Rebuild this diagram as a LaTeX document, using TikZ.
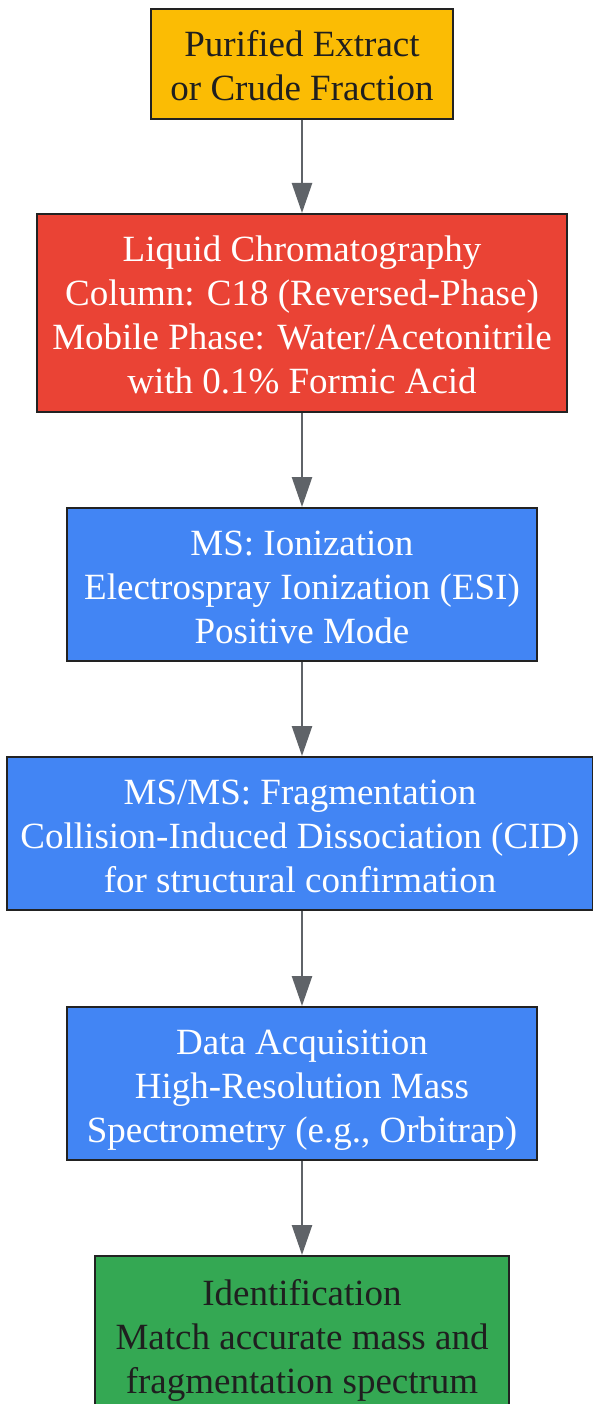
\documentclass[tikz,border=0pt]{standalone}
\usepackage{fontspec}
\setmainfont{Liberation Serif}
\usetikzlibrary{arrows.meta}
\definecolor{cyellow}{HTML}{FBBC04}
\definecolor{cred}{HTML}{EA4335}
\definecolor{cblue}{HTML}{4285F4}
\definecolor{cgreen}{HTML}{34A853}
\definecolor{cline}{HTML}{5F6368}
\definecolor{cborder}{HTML}{222222}
\definecolor{ctext}{HTML}{1F1F1F}
\newcommand\btxt[1]{\raisebox{-6pt}[\height][\depth]{\begin{tabular}{@{}c@{}}#1\end{tabular}}}
\begin{document}
\begin{tikzpicture}[x=1pt,y=1pt,
  box/.style={draw=cborder,line width=2pt,rectangle,inner sep=0pt,
    font=\fontsize{37}{44}\selectfont},
  conn/.style={draw=cline,line width=2.5pt,-{Triangle[length=30pt,width=20pt]}}]
\useasboundingbox (0,0) rectangle (593,-1404);
\begin{scope}
\clip (0,0) rectangle (593,-1404);
\node[box,fill=cyellow,text=ctext,minimum width=302pt,minimum height=110pt] (n1) at (302,-64)
  {\btxt{Purified Extract\\or Crude Fraction}};
\node[box,fill=cred,text=white,minimum width=530pt,minimum height=198pt] (n2) at (302,-313)
  {\btxt{Liquid Chromatography\\Column: C18 (Reversed-Phase)\\Mobile Phase: Water/Acetonitrile\\with 0.1\% Formic Acid}};
\node[box,fill=cblue,text=white,minimum width=470pt,minimum height=153pt] (n3) at (302,-584.5)
  {\btxt{MS: Ionization\\Electrospray Ionization (ESI)\\Positive Mode}};
\node[box,fill=cblue,text=white,minimum width=586pt,minimum height=153pt] (n4) at (300,-833.5)
  {\btxt{MS/MS: Fragmentation\\Collision-Induced Dissociation (CID)\\for structural confirmation}};
\node[box,fill=cblue,text=white,minimum width=470pt,minimum height=153pt] (n5) at (302,-1083.5)
  {\btxt{Data Acquisition\\High-Resolution Mass\\Spectrometry (e.g., Orbitrap)}};
\node[box,fill=cgreen,text=ctext,minimum width=414pt,minimum height=158pt] (n6) at (302,-1335)
  {\btxt{Identification\\Match accurate mass and\\fragmentation spectrum}};
\draw[conn] (n1.south) -- (n2.north);
\draw[conn] (n2.south) -- (n3.north);
\draw[conn] (n3.south) -- (n4.north -| n3.south);
\draw[conn] (n4.south -| n5.north) -- (n5.north);
\draw[conn] (n5.south) -- (n6.north);
\end{scope}
\end{tikzpicture}
\end{document}
